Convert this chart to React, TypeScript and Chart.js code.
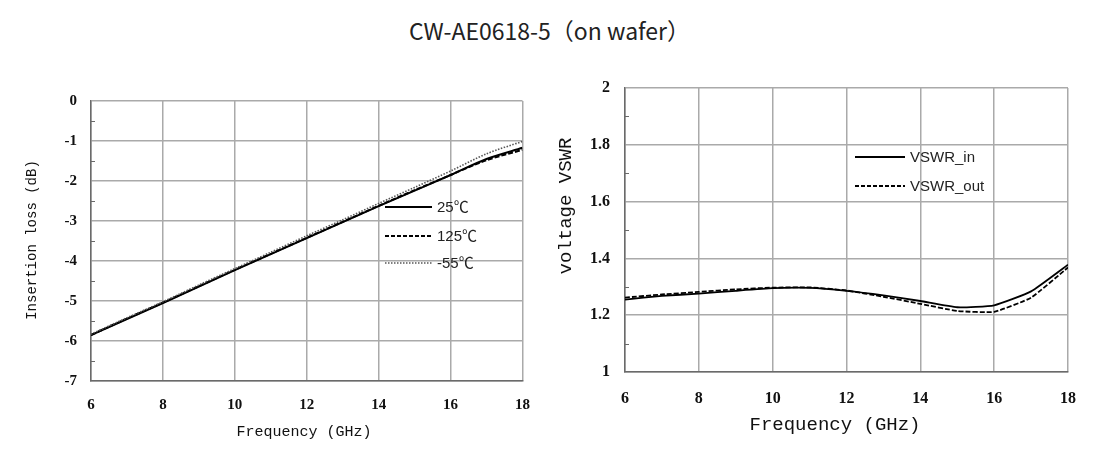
import React, { useEffect, useRef } from "react";
import { Chart, registerables } from "chart.js";

Chart.register(...registerables);

// ---------------- data ----------------
const chartTitle = "CW-AE0618-5（on wafer）";
const freqGHz = [6, 7, 8, 9, 10, 11, 12, 13, 14, 15, 16, 17, 18];
const freqTicks = [6, 8, 10, 12, 14, 16, 18];

const loss25C = [-5.85, -5.45, -5.05, -4.64, -4.23, -3.83, -3.43, -3.03, -2.63, -2.24, -1.85, -1.45, -1.17];
const loss125C = [-5.85, -5.44, -5.04, -4.63, -4.22, -3.82, -3.42, -3.02, -2.62, -2.23, -1.85, -1.48, -1.22];
const lossMinus55C = [-5.83, -5.42, -5.02, -4.6, -4.19, -3.78, -3.37, -2.97, -2.56, -2.16, -1.75, -1.32, -1.01];
const lossTicks = [0, -1, -2, -3, -4, -5, -6, -7];
const lossMinorTicks = [-0.5, -1.5, -2.5, -3.5, -4.5, -5.5, -6.5];

const vswrIn = [1.255, 1.268, 1.276, 1.286, 1.295, 1.296, 1.286, 1.27, 1.25, 1.228, 1.235, 1.284, 1.378];
const vswrOut = [1.262, 1.273, 1.282, 1.291, 1.297, 1.298, 1.287, 1.265, 1.24, 1.215, 1.212, 1.262, 1.368];
const vswrTicks = [1, 1.2, 1.4, 1.6, 1.8, 2];
const vswrMinorTicks = [1.1, 1.3, 1.5, 1.7, 1.9];

const lossLabels = ["25℃", "125℃", "-55℃"];
const vswrLabels = ["VSWR_in", "VSWR_out"];

const axisFreq = "Frequency (GHz)";
const axisLoss = "Insertion loss (dB)";
const axisVswr = "voltage VSWR";

// ---------------- styles ----------------
const GRID = "#aaaaaa";
const BORDER = "#6a6a6a";
const MONO = "'Liberation Mono', 'DejaVu Sans Mono', monospace";
const SERIF = "'Liberation Serif', 'DejaVu Serif', serif";
const SANS = "'Liberation Sans', 'Noto Sans CJK SC', sans-serif";

const toXY = (ys: number[]) => freqGHz.map((x, i) => ({ x, y: ys[i] }));

const decorPlugin = {
  id: "decor",
  afterDraw(chart: any, _args: any, opts: any) {
    const { ctx, chartArea, scales } = chart;
    ctx.save();
    // minor ticks on left axis
    ctx.strokeStyle = BORDER;
    ctx.lineWidth = 1;
    for (const v of opts.minor || []) {
      const y = Math.round(scales.y.getPixelForValue(v)) + 0.5;
      ctx.beginPath();
      ctx.moveTo(chartArea.left, y);
      ctx.lineTo(chartArea.left + 4, y);
      ctx.stroke();
    }
    // legend
    for (const item of opts.legend || []) {
      ctx.beginPath();
      ctx.setLineDash(item.dash || []);
      ctx.strokeStyle = item.color;
      ctx.lineWidth = item.width;
      ctx.moveTo(item.x1, item.y);
      ctx.lineTo(item.x2, item.y);
      ctx.stroke();
      ctx.setLineDash([]);
      ctx.fillStyle = "#222";
      ctx.font = opts.legendFont;
      ctx.textAlign = "left";
      ctx.textBaseline = "middle";
      ctx.fillText(item.text, item.x2 + 5, item.y + 1);
    }
    // axis titles
    for (const t of opts.titles || []) {
      ctx.save();
      ctx.translate(t.x, t.y);
      ctx.rotate(t.rot || 0);
      ctx.fillStyle = "#111";
      ctx.font = t.font;
      ctx.textAlign = "center";
      ctx.textBaseline = "middle";
      ctx.fillText(t.text, 0, 0);
      ctx.restore();
    }
    ctx.restore();
  },
};

function makeScales(cfg: any) {
  return {
    x: {
      type: "linear",
      min: 6,
      max: 18,
      afterFit: (s: any) => { s.height = cfg.xHeight; },
      afterBuildTicks: (s: any) => { s.ticks = freqTicks.map((v) => ({ value: v })); },
      grid: { color: GRID, lineWidth: 1.5, drawTicks: false },
      border: { color: BORDER, width: 1.5 },
      ticks: { padding: cfg.xPad, color: "#111", font: { family: SERIF, size: cfg.tickSize, weight: "bold" } },
    },
    y: {
      type: "linear",
      min: cfg.yMin,
      max: cfg.yMax,
      afterFit: (s: any) => { s.width = cfg.yWidth; },
      afterBuildTicks: (s: any) => { s.ticks = cfg.yTicks.map((v: number) => ({ value: v })); },
      grid: { color: GRID, lineWidth: 1.5, drawTicks: false },
      border: { color: BORDER, width: 1.5 },
      ticks: {
        padding: cfg.yPad,
        color: "#111",
        font: { family: SERIF, size: cfg.tickSize, weight: "bold" },
        callback: (v: number) => String(+Number(v).toFixed(1)),
      },
    },
  };
}

function LossChart() {
  const ref = useRef<HTMLCanvasElement>(null);
  useEffect(() => {
    const chart = new Chart(ref.current!, {
      type: "line",
      data: {
        datasets: [
          { label: lossLabels[2], data: toXY(lossMinus55C), borderColor: "#555", borderWidth: 1.6, borderDash: [1.5, 1.5], pointRadius: 0, tension: 0.3 },
          { label: lossLabels[1], data: toXY(loss125C), borderColor: "#000", borderWidth: 2, borderDash: [5, 2], pointRadius: 0, tension: 0.3 },
          { label: lossLabels[0], data: toXY(loss25C), borderColor: "#000", borderWidth: 2, pointRadius: 0, tension: 0.3 },
        ],
      },
      options: {
        responsive: false,
        animation: false,
        layout: { padding: { top: 41, right: 21, bottom: 0, left: 0 } },
        plugins: {
          legend: { display: false },
          tooltip: { enabled: false },
          decor: {
            minor: lossMinorTicks,
            legendFont: `15px ${SANS}`,
            legend: [
              { text: lossLabels[0], x1: 385, x2: 432, y: 147, color: "#000", width: 2 },
              { text: lossLabels[1], x1: 385, x2: 432, y: 176, color: "#000", width: 2, dash: [4, 2] },
              { text: lossLabels[2], x1: 385, x2: 432, y: 203, color: "#555", width: 1.5, dash: [1.5, 1.5] },
            ],
            titles: [
              { text: axisFreq, x: 304, y: 372, font: `15px ${MONO}` },
              { text: axisLoss, x: 32, y: 180, rot: -Math.PI / 2, font: `14px ${MONO}` },
            ],
          },
        } as any,
        scales: makeScales({ xHeight: 79, xPad: 15, yWidth: 91, yPad: 14, tickSize: 15, yMin: -7, yMax: 0, yTicks: lossTicks }) as any,
      },
      plugins: [decorPlugin],
    } as any);
    return () => chart.destroy();
  }, []);
  return <canvas ref={ref} width={545} height={400} style={{ position: "absolute", left: 0, top: 60 }} />;
}

function VswrChart() {
  const ref = useRef<HTMLCanvasElement>(null);
  useEffect(() => {
    const chart = new Chart(ref.current!, {
      type: "line",
      data: {
        datasets: [
          { label: vswrLabels[1], data: toXY(vswrOut), borderColor: "#000", borderWidth: 1.8, borderDash: [5, 2], pointRadius: 0, tension: 0.15 },
          { label: vswrLabels[0], data: toXY(vswrIn), borderColor: "#000", borderWidth: 1.8, pointRadius: 0, tension: 0.15 },
        ],
      },
      options: {
        responsive: false,
        animation: false,
        layout: { padding: { top: 28, right: 39, bottom: 0, left: 0 } },
        plugins: {
          legend: { display: false },
          tooltip: { enabled: false },
          decor: {
            minor: vswrMinorTicks,
            legendFont: `15px ${SANS}`,
            legend: [
              { text: vswrLabels[0], x1: 310, x2: 360, y: 97, color: "#000", width: 2 },
              { text: vswrLabels[1], x1: 310, x2: 360, y: 126, color: "#000", width: 2, dash: [4, 2] },
            ],
            titles: [
              { text: axisFreq, x: 290, y: 365, font: `19px ${MONO}` },
              { text: axisVswr, x: 21, y: 146, rot: -Math.PI / 2, font: `19px ${MONO}` },
            ],
          },
        } as any,
        scales: makeScales({ xHeight: 88, xPad: 17, yWidth: 80, yPad: 15, tickSize: 16, yMin: 1, yMax: 2, yTicks: vswrTicks }) as any,
      },
      plugins: [decorPlugin],
    } as any);
    return () => chart.destroy();
  }, []);
  return <canvas ref={ref} width={562} height={400} style={{ position: "absolute", left: 545, top: 60 }} />;
}

export default function App() {
  return (
    <div style={{ position: "absolute", left: 0, top: 0, width: 1107, height: 460, background: "#fff", overflow: "hidden" }}>
      <div
        style={{
          position: "absolute",
          left: 409,
          top: 14,
          fontFamily: "'Noto Sans CJK SC', 'Noto Sans', sans-serif",
          fontSize: 23,
          lineHeight: "32px",
          color: "#222",
          whiteSpace: "pre",
        }}
      >
        {chartTitle}
      </div>
      <LossChart />
      <VswrChart />
    </div>
  );
}
